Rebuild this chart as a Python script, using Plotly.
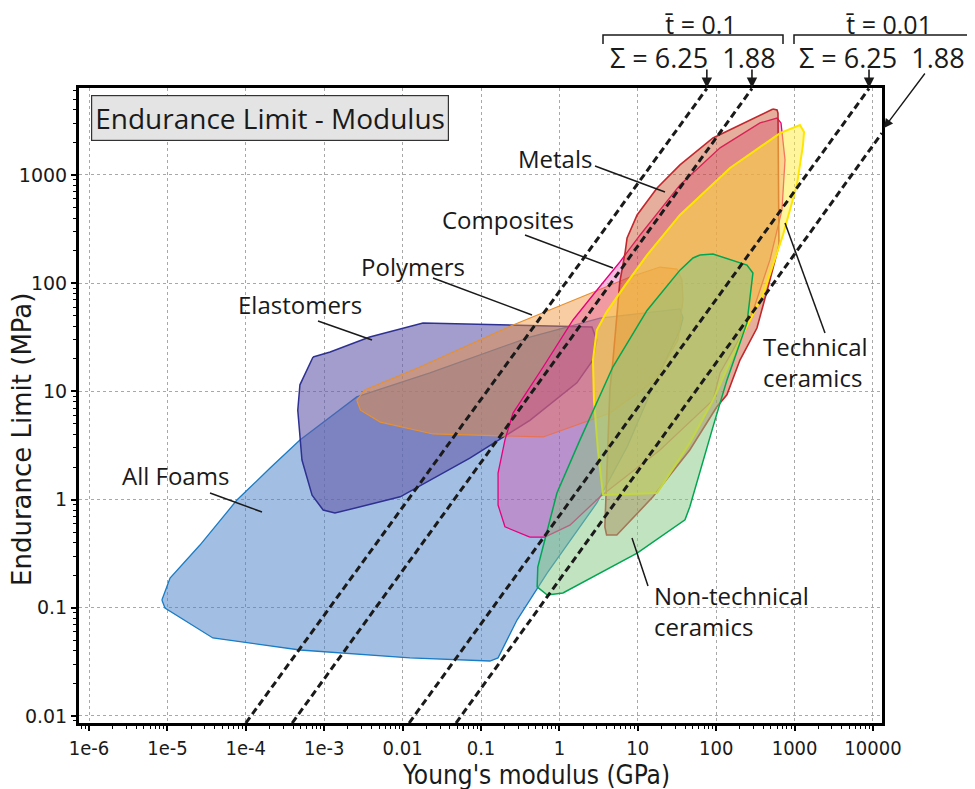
import math
import plotly.graph_objects as go

# ---------------- data (E in GPa, endurance limit in MPa) ----------------
foams_E = [8.5e-6, 1.08e-5, 2.6e-5, 7.7e-5, 2.04e-4, 4.9e-4, 2.6e-3, 0.0223, 0.42, 3.3, 34.5, 37.7,
           34.5, 15.6, 7.3, 3.0, 0.70, 0.288, 0.165, 0.130, 0.0124, 4.9e-4, 3.8e-5, 9.3e-6]
foams_S = [0.118, 0.188, 0.38, 0.99, 1.96, 3.56, 8.9, 14.8, 31.8, 47.6, 57.8, 47.6,
           36.9, 11.0, 3.06, 0.93, 0.21, 0.077, 0.0344, 0.0322, 0.0344, 0.0407, 0.0526, 0.0995]

elast_E = [7.2e-4, 4.9e-4, 4.6e-4, 5.2e-4, 7.0e-4, 9.7e-4, 1.37e-3, 9.3e-3, 0.072, 0.42, 1.67,
           2.68, 3.0, 2.6, 0.0182, 3.8e-3, 1.19e-3]
elast_S = [20.8, 11.5, 6.7, 2.32, 1.10, 0.80, 0.75, 1.06, 2.42, 5.4, 12.0,
           19.5, 29.9, 39.4, 42.9, 31.8, 23.1]

poly_E = [2.6e-3, 3.3e-3, 0.0167, 0.256, 8.0, 19.2, 31.6, 36.6, 37.7, 32.6, 16.6, 4.4, 0.62,
          0.0244, 5.2e-3, 2.9e-3]
poly_S = [8.3, 10.3, 16.8, 41.1, 114, 141, 135, 107, 70, 29.9, 12.7, 6.3, 3.79,
          4.04, 5.2, 6.7]

comp_E = [0.42, 0.202, 0.165, 0.165, 0.202, 0.256, 0.62, 1.49, 3.0, 5.9, 10.7, 34.5, 112, 362,
          597, 671, 755, 690, 485, 270, 112, 91, 19.2, 3.3, 1.36, 0.65]
comp_S = [0.45, 0.56, 0.89, 1.76, 3.56, 6.3, 16.8, 45.7, 86, 157, 279, 809, 1780, 3030,
          3360, 3030, 1380, 475, 164, 45.7, 14.8, 8.3, 2.87, 1.06, 0.58, 0.45]

metal_E = [530, 91, 34.5, 17.6, 9.8, 7.3, 6.9, 5.9, 4.8, 4.4, 4.0, 3.8, 4.0, 5.4, 15.6, 46, 102,
           137, 201, 331, 485, 632, 614, 597]
metal_S = [4070, 2200, 1240, 759, 427, 262, 194, 103, 18.7, 10.3, 1.52, 0.56, 0.47, 0.47, 1.06,
           2.87, 7.2, 9.3, 19.5, 38.5, 107, 225, 3740, 3990]

tech_E = [3.6, 3.1, 2.76, 2.68, 3.0, 4.0, 6.9, 13.1, 34.5, 150, 652, 1170, 1320, 1280, 1070, 711,
          395, 201, 91, 46, 17.6]
tech_S = [1.10, 2.87, 8.3, 19.5, 36.9, 54, 96, 182, 427, 1160, 2440, 2900, 2500, 1890, 809, 279,
          78, 29.9, 8.3, 3.33, 1.15]

nontech_E = [62, 91, 247, 294, 247, 137, 91, 46, 40, 9.8, 1.11, 0.70, 0.52, 0.53, 0.93, 1.83,
             4.8, 13.1, 34.5, 50.6]
nontech_S = [182, 186, 147, 124, 42.9, 12.7, 4.7, 0.855, 0.65, 0.32, 0.137, 0.131, 0.156, 0.238,
             1.15, 3.56, 16.8, 56, 132, 171]

# design guide lines (endpoints)
guide_E_lo = [1.0e-4, 3.9e-4, 0.0121, 0.048]
guide_S_lo = [0.0086, 0.0086, 0.0086, 0.0086]
guide_E_hi = [76, 286, 8900, 13000]
guide_S_hi = [6300, 6300, 6300, 2440]

x_tickvals = [1e-6, 1e-5, 1e-4, 1e-3, 0.01, 0.1, 1, 10, 100, 1000, 10000]
x_ticktext = ["1e-6", "1e-5", "1e-4", "1e-3", "0.01", "0.1", "1", "10", "100", "1000", "10000"]
y_tickvals = [0.01, 0.1, 1, 10, 100, 1000]
y_ticktext = ["0.01", "0.1", "1", "10", "100", "1000"]

# ---------------- styling ----------------
LBL_FONT = "Open Sans, Noto Sans, sans-serif"
TICK_X_FONT = "Liberation Sans Narrow, DejaVu Sans Condensed, Liberation Sans, sans-serif"
TICK_Y_FONT = "DejaVu Sans, Verdana, sans-serif"
TXT = "#1a1a1a"

# target plot area in page pixels (page has an 8px body margin)
OFF = 8
PL, PR, PT, PB = 79, 882, 88, 723
FIG_W, FIG_H = 975 - OFF, 789 - OFF


def P(px, py):
    return (px - PL) / (PR - PL), (PB - py) / (PB - PT)


families = [
    ("All Foams", foams_E, foams_S, "rgba(70,128,200,0.5)", "#1a7cc4", 1.3),
    ("Elastomers", elast_E, elast_S, "rgba(100,92,170,0.6)", "#2e3192", 1.5),
    ("Polymers", poly_E, poly_S, "rgba(242,145,53,0.45)", "#e8902e", 1.2),
    ("Composites", comp_E, comp_S, "rgba(230,60,160,0.35)", "#e6007e", 1.3),
    ("Metals", metal_E, metal_S, "rgba(200,75,35,0.45)", "#c1272d", 1.6),
    ("Technical ceramics", tech_E, tech_S, "rgba(255,235,60,0.5)", "#ffe600", 2.0),
    ("Non-technical ceramics", nontech_E, nontech_S, "rgba(133,199,129,0.5)", "#00a651", 1.5),
]

fig = go.Figure()
for name, E, S, fill, line, w in families:
    fig.add_trace(go.Scatter(
        x=E + E[:1], y=S + S[:1], mode="lines", fill="toself", fillcolor=fill,
        line=dict(color=line, width=w), name=name, hoverinfo="name"))

for e0, s0, e1, s1 in zip(guide_E_lo, guide_S_lo, guide_E_hi, guide_S_hi):
    fig.add_trace(go.Scatter(x=[e0, e1], y=[s0, s1], mode="lines",
                             line=dict(color=TXT, width=3, dash="7px,4px"),
                             hoverinfo="skip"))

minor_x = [m * 10 ** d for d in range(-7, 5) for m in range(2, 10)]
minor_y = [m * 10 ** d for d in range(-3, 4) for m in range(2, 10)]

axis_common = dict(
    type="log", showline=True, linecolor="black", linewidth=3, mirror=True,
    ticks="outside", ticklen=5, tickwidth=1.5, tickcolor="black",
    showgrid=True, gridcolor="#a8a8a8", griddash="dot", gridwidth=1, zeroline=False,
    tickmode="array",
)
fig.update_xaxes(**axis_common, range=[-6.128, 4.115], tickvals=x_tickvals, ticktext=x_ticktext,
                 tickfont=dict(family=TICK_X_FONT, size=20, color=TXT),
                 minor=dict(tickmode="array", tickvals=minor_x, ticks="outside", ticklen=3,
                            tickwidth=1.2, tickcolor="black", showgrid=False))
fig.update_yaxes(**axis_common, range=[-2.065, 3.804], tickvals=y_tickvals, ticktext=y_ticktext,
                 tickfont=dict(family=TICK_Y_FONT, size=19, color=TXT),
                 minor=dict(tickmode="array", tickvals=minor_y, ticks="outside", ticklen=3,
                            tickwidth=1.2, tickcolor="black", showgrid=False))

ann = []
shapes = []


def text_at(text, px, py, size, family=LBL_FONT, xanchor="center", **kw):
    x, y = P(px, py)
    d = dict(x=x, y=y, xref="paper", yref="paper", text=text, showarrow=False,
             xanchor=xanchor, yanchor="middle", font=dict(family=family, size=size, color=TXT))
    d.update(kw)
    ann.append(d)


# axis titles
text_at("Young's modulus (GPa)", 536, 775, 26, family=TICK_X_FONT)
text_at("Endurance Limit (MPa)", 22, 440, 26, family=TICK_Y_FONT, textangle=-90)

# title box
text_at("Endurance Limit - Modulus", 270, 118, 28, bgcolor="#e4e4e4", bordercolor="#333",
        borderwidth=1.2, borderpad=3)

# family labels
labels = [
    ("Metals", 555, 159, "center"),
    ("Composites", 508, 219, "center"),
    ("Polymers", 413, 266, "center"),
    ("Elastomers", 300, 304, "center"),
    ("All Foams", 175, 476, "center"),
    ("Technical<br>ceramics", 761, 362, "left"),
    ("Non-technical<br>ceramics", 652, 611, "left"),
]
for text, px, py, anc in labels:
    text_at(text, px, py, 24, xanchor=anc, align="left")

leaders = [
    ((595, 166), (665, 192)),
    ((525, 235), (613, 268)),
    ((433, 278), (532, 315)),
    ((318, 321), (372, 340)),
    ((210, 493), (262, 512)),
    ((785, 223), (825, 333)),
    ((632, 538), (648, 586)),
]
for (a, b) in leaders:
    x0, y0 = P(*a)
    x1, y1 = P(*b)
    shapes.append(dict(type="line", xref="paper", yref="paper", x0=x0, y0=y0, x1=x1, y1=y1,
                       line=dict(color=TXT, width=1.5)))

# top guide-line annotations
for tx, cx, bx0, bx1 in [("t\u0304 = 0.1", 701, 603, 783), ("t\u0304 = 0.01", 889, 794, 969)]:
    text_at(tx, cx, 24, 25)
    xa, ya = P(bx0, 44)
    xb, yb = P(bx1, 35)
    shapes.append(dict(type="path", xref="paper", yref="paper",
                       path=f"M {xa},{ya} L {xa},{yb} L {xb},{yb} L {xb},{ya}",
                       line=dict(color=TXT, width=1.5)))
    text_at("\u03a3 = 6.25\u00a0 1.88", (bx0 + bx1) / 2, 57, 27)

# arrows pointing at the guide lines
for i in range(3):
    ann.append(dict(x=math.log10(guide_E_hi[i]), y=1, xref="x", yref="paper", ax=0, ay=-20,
                    showarrow=True, arrowhead=2, arrowsize=1.3, arrowwidth=1.6,
                    arrowcolor=TXT, text=""))
tx, ty = P(884, 128)
ann.append(dict(x=tx, y=ty, xref="paper", yref="paper", ax=42, ay=-56,
                showarrow=True, arrowhead=2, arrowsize=1.3, arrowwidth=1.4,
                arrowcolor=TXT, text=""))

fig.update_layout(
    width=FIG_W, height=FIG_H,
    margin=dict(l=PL - OFF, r=FIG_W - (PR - OFF), t=PT - OFF, b=FIG_H - (PB - OFF), autoexpand=False),
    plot_bgcolor="white", paper_bgcolor="white", showlegend=False,
    annotations=ann, shapes=shapes,
)

fig.write_html("out.html")
